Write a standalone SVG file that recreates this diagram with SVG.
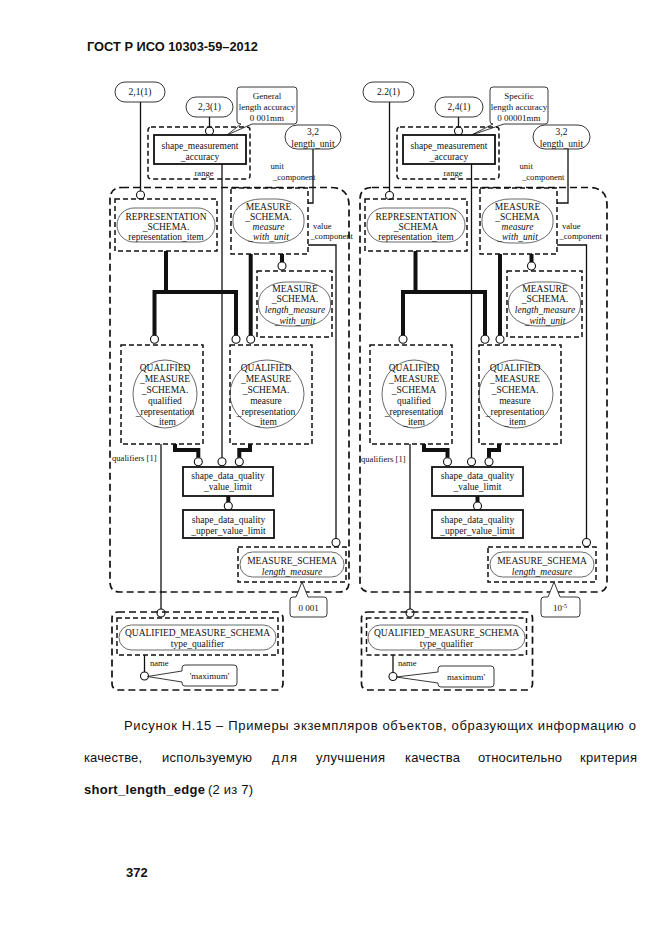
<svg xmlns="http://www.w3.org/2000/svg" width="661" height="935" viewBox="0 0 661 935">
<style>
.t{font-family:"Liberation Serif","Times New Roman",serif;font-size:9.5px;fill:#111;text-anchor:middle}
.s{font-size:8.6px}
.n{font-size:9px}
.i{font-style:italic}
.st{text-anchor:start}
.box{fill:#fff;stroke:#111;stroke-width:1.8}
.dbox{fill:none;stroke:#111;stroke-width:1.5;stroke-dasharray:5 3}
.obox{fill:none;stroke:#111;stroke-width:1.7;stroke-dasharray:7 4}
.lbl{fill:#fff;stroke:#222;stroke-width:0.9}
.shp{fill:none;stroke:#444;stroke-width:0.8}
.thin{fill:none;stroke:#111;stroke-width:1.3}
.thick{fill:none;stroke:#111;stroke-width:4}
.c{fill:#fff;stroke:#111;stroke-width:1.1}
.cap{font-family:"Liberation Sans",Arial,sans-serif;font-size:13px;fill:#111}
.b{font-weight:bold}
</style>
<rect width="661" height="935" fill="#fff"/>
<text class="cap b" x="87" y="50.5" font-size="14" textLength="171" lengthAdjust="spacingAndGlyphs">ГОСТ Р ИСО 10303-59–2012</text>

<g id="panel-left">
  <g id="L-group">
    <path class="obox" d="M122,187.5 H331 Q349,187.5 349,205.5 V582 Q349,592 339,592 H120 Q110,592 110,582 V199.5 Q110,187.5 122,187.5 Z"/>
  </g>
  <g id="L-connectors">
    <path class="thin" d="M140.5,102 V191"/>
    <path class="thin" d="M209.5,117 V127"/>
    <path class="thin" d="M313,149 V203 H308"/>
    <path class="thin" d="M308,245 H336 V538.5"/>
    <path class="thin" d="M222,164 V457.7"/>
    <path class="thin" d="M161,444 V609"/>
    <path class="thin" d="M144.5,655 V672"/>
    <path class="thick" d="M166,251 V292"/>
    <path class="thick" d="M154.5,335.3 V292 H236 V335.3"/>
    <path class="thick" d="M250.7,254 V335.3"/>
    <path class="thick" d="M282,254 V262"/>
    <path class="thick" d="M175,444 V450 H198.3 V457.7"/>
    <path class="thick" d="M250,444 V450 H239.3 V457.7"/>
    <path class="thick" d="M228.3,496 V502"/>
    <circle class="c" cx="140.5" cy="195" r="4"/>
    <circle class="c" cx="209.5" cy="131" r="4"/>
    <circle class="c" cx="154.5" cy="339.3" r="4"/>
    <circle class="c" cx="236" cy="339.3" r="4"/>
    <circle class="c" cx="250.7" cy="339.3" r="4"/>
    <circle class="c" cx="282" cy="266" r="4"/>
    <circle class="c" cx="198.3" cy="461.7" r="4"/>
    <circle class="c" cx="222" cy="461.7" r="4"/>
    <circle class="c" cx="239.3" cy="461.7" r="4"/>
    <circle class="c" cx="228.3" cy="506" r="4"/>
    <circle class="c" cx="336" cy="542.5" r="4"/>
    <circle class="c" cx="161" cy="613" r="4"/>
    <circle class="c" cx="144.5" cy="676" r="4"/>
    <text class="t s st" x="270.5" y="169">unit</text>
    <text class="t s st" x="273" y="180">_component</text>
    <text class="t s st" x="313" y="229">value</text>
    <text class="t s st" x="310.5" y="239">_component</text>
    <text class="t s st" x="112" y="461">qualifiers [1]</text>
    <text class="t s st" x="150" y="666">name</text>
  </g>
  <g id="L-ref-2-1">
    <rect class="lbl" x="115" y="82" width="50" height="20" rx="10"/>
    <text class="t" x="140" y="95.3">2,1(1)</text>
  </g>
  <g id="L-ref-2-3">
    <rect class="lbl" x="186" y="97" width="47" height="20" rx="10"/>
    <text class="t" x="209.5" y="110.3">2,3(1)</text>
  </g>
  <g id="L-note-accuracy">
    <path class="lbl" d="M240,87 H294 Q297,87 297,90 V121 Q297,124 294,124 H252 L227,135 L241,124 Q237,124 237,121 V90 Q237,87 240,87 Z"/>
    <text class="t n" x="267" y="98.5">General</text>
    <text class="t n" x="267" y="109.5">length accuracy</text>
    <text class="t n" x="267" y="120.5">0 001mm</text>
  </g>
  <g id="L-ref-3-2">
    <rect class="lbl" x="285" y="125" width="56" height="24" rx="12"/>
    <text class="t" x="313" y="135">3,2</text>
    <text class="t" x="313" y="146.5">length_unit</text>
  </g>
  <g id="L-shape-measurement-accuracy">
    <rect class="dbox" x="148" y="127" width="102" height="52" rx="3"/>
    <rect class="box" x="154" y="135" width="92" height="29"/>
    <text class="t" x="200" y="149">shape_measurement</text>
    <text class="t" x="200" y="160">_accuracy</text>
    <text class="t s" x="204" y="176">range</text>
  </g>
  <g id="L-representation-item">
    <rect class="dbox" x="115" y="199" width="102" height="52"/>
    <rect class="shp" x="117" y="208" width="98" height="34" rx="17"/>
    <text class="t" x="166" y="220">REPRESENTATION</text>
    <text class="t" x="166" y="229.5">_SCHEMA.</text>
    <text class="t" x="166" y="239.5">representation_item</text>
  </g>
  <g id="L-measure-with-unit">
    <rect class="dbox" x="231" y="188" width="77" height="66"/>
    <rect class="shp" x="233" y="199" width="71" height="44" rx="28" ry="20"/>
    <text class="t" x="268.5" y="210">MEASURE</text>
    <text class="t" x="268.5" y="220">_SCHEMA.</text>
    <text class="t i" x="268.5" y="230">measure</text>
    <text class="t i" x="268.5" y="240">_with_unit</text>
  </g>
  <g id="L-length-measure-with-unit">
    <rect class="dbox" x="257" y="271" width="75" height="66"/>
    <rect class="shp" x="258.5" y="282" width="72" height="44" rx="28" ry="20"/>
    <text class="t" x="295" y="291.5">MEASURE</text>
    <text class="t" x="295" y="302">_SCHEMA.</text>
    <text class="t i" x="295" y="313">length_measure</text>
    <text class="t i" x="295" y="323.5">_with_unit</text>
  </g>
  <g id="L-qualified-representation-item">
    <rect class="dbox" x="121" y="345" width="82" height="99"/>
    <ellipse class="shp" cx="165" cy="394" rx="32" ry="34"/>
    <text class="t" x="165" y="371">QUALIFIED</text>
    <text class="t" x="165" y="382">_MEASURE</text>
    <text class="t" x="165" y="393">_SCHEMA.</text>
    <text class="t" x="165" y="403.5">qualified</text>
    <text class="t" x="165" y="415">_representation</text>
    <text class="t" x="165" y="425">_item</text>
  </g>
  <g id="L-measure-representation-item">
    <rect class="dbox" x="230" y="345" width="82" height="99"/>
    <ellipse class="shp" cx="267" cy="394" rx="37" ry="34"/>
    <text class="t" x="266" y="371">QUALIFIED</text>
    <text class="t" x="266" y="382">_MEASURE</text>
    <text class="t" x="266" y="393">_SCHEMA.</text>
    <text class="t" x="266" y="403.5">measure</text>
    <text class="t" x="266" y="415">_representation</text>
    <text class="t" x="266" y="425">_item</text>
  </g>
  <g id="L-value-limit">
    <rect class="box" x="183" y="467" width="90" height="29"/>
    <text class="t" x="228" y="479">shape_data_quality</text>
    <text class="t" x="228" y="490">_value_limit</text>
  </g>
  <g id="L-upper-value-limit">
    <rect class="box" x="183" y="510" width="91" height="28"/>
    <text class="t" x="228.5" y="522.5">shape_data_quality</text>
    <text class="t" x="228.5" y="533.5">_upper_value_limit</text>
  </g>
  <g id="L-length-measure">
    <rect class="dbox" x="238" y="547" width="108" height="35"/>
    <rect class="shp" x="240" y="552" width="104" height="25" rx="12.5"/>
    <text class="t" x="292" y="564">MEASURE_SCHEMA</text>
    <text class="t i" x="292" y="574.5">length_measure</text>
  </g>
  <g id="L-note-value">
    <path class="lbl" d="M293,597 H296 L302,582 L308,597 H324 Q327,597 327,600 V614 Q327,617 324,617 H293 Q290,617 290,614 V600 Q290,597 293,597 Z"/>
    <text class="t n" x="308.5" y="610.5">0 001</text>
  </g>
  <g id="L-type-qualifier">
    <rect class="obox" x="112" y="612" width="171" height="78" rx="6"/>
    <rect class="dbox" x="117" y="618" width="161" height="37"/>
    <rect class="shp" x="119" y="625" width="157" height="25" rx="12.5"/>
    <text class="t" x="197.5" y="636">QUALIFIED_MEASURE_SCHEMA</text>
    <text class="t" x="197.5" y="646.5">type_qualifier</text>
  </g>
  <g id="L-note-name">
    <path class="lbl" d="M185,665 H234 Q237,665 237,668 V683 Q237,686 234,686 H185 Q182,686 182,683 V682 L147.5,676.5 L182,671 V668 Q182,665 185,665 Z"/>
    <text class="t n" x="209.5" y="679">'maximum'</text>
  </g>
</g>

<g id="panel-right" transform="translate(249,0)">
  <g id="R-group">
    <path class="obox" d="M123,187.5 H340 Q358,187.5 358,205.5 V582 Q358,592 348,592 H121 Q111,592 111,582 V199.5 Q111,187.5 123,187.5 Z"/>
  </g>
  <g id="R-connectors">
    <path class="thin" d="M140.5,102 V191"/>
    <path class="thin" d="M209.5,117 V127"/>
    <path class="thin" d="M319,149 V203 H308"/>
    <path class="thin" d="M308,245 H337.5 V538.5"/>
    <path class="thin" d="M222.5,164 V457.7"/>
    <path class="thin" d="M161,444 V609"/>
    <path class="thin" d="M144,655 V672"/>
    <path class="thick" d="M166.5,251 V292"/>
    <path class="thick" d="M154,335.3 V292 H236 V335.3"/>
    <path class="thick" d="M251,254 V335.3"/>
    <path class="thick" d="M282.5,254 V262"/>
    <path class="thick" d="M175,444 V450 H198.5 V457.7"/>
    <path class="thick" d="M250,444 V450 H240 V457.7"/>
    <path class="thick" d="M228.5,496 V502"/>
    <circle class="c" cx="140.5" cy="195.5" r="4"/>
    <circle class="c" cx="209.5" cy="131" r="4"/>
    <circle class="c" cx="154" cy="339.3" r="4"/>
    <circle class="c" cx="236" cy="339.3" r="4"/>
    <circle class="c" cx="251" cy="339.3" r="4"/>
    <circle class="c" cx="282.5" cy="266" r="4"/>
    <circle class="c" cx="198.5" cy="461.7" r="4"/>
    <circle class="c" cx="222.5" cy="461.7" r="4"/>
    <circle class="c" cx="240" cy="461.7" r="4"/>
    <circle class="c" cx="228.5" cy="506" r="4"/>
    <circle class="c" cx="337.5" cy="542.5" r="4"/>
    <circle class="c" cx="161" cy="613" r="4"/>
    <circle class="c" cx="144" cy="676.5" r="4"/>
    <text class="t s st" x="270.5" y="169">unit</text>
    <text class="t s st" x="273" y="180">_component</text>
    <text class="t s st" x="313" y="229">value</text>
    <text class="t s st" x="310.5" y="239">_component</text>
    <text class="t s st" x="112" y="462">qualifiers [1]</text>
    <text class="t s st" x="149" y="666">name</text>
  </g>
  <g id="R-ref-2-2">
    <rect class="lbl" x="114" y="82" width="51" height="20" rx="10"/>
    <text class="t" x="139.5" y="95.3">2.2(1)</text>
  </g>
  <g id="R-ref-2-4">
    <rect class="lbl" x="186" y="97" width="48" height="20" rx="10"/>
    <text class="t" x="210" y="110.3">2,4(1)</text>
  </g>
  <g id="R-note-accuracy">
    <path class="lbl" d="M244,87 H296 Q299,87 299,90 V121 Q299,124 296,124 H255 L222.5,135 L244,124 Q241,124 241,121 V90 Q241,87 244,87 Z"/>
    <text class="t n" x="270" y="98.5">Specific</text>
    <text class="t n" x="270" y="109.5">length accuracy</text>
    <text class="t n" x="270" y="120.5">0 00001mm</text>
  </g>
  <g id="R-ref-3-2">
    <rect class="lbl" x="284" y="125" width="57" height="24" rx="12"/>
    <text class="t" x="312.5" y="135">3,2</text>
    <text class="t" x="312.5" y="146.5">length_unit</text>
  </g>
  <g id="R-shape-measurement-accuracy">
    <rect class="dbox" x="148" y="127" width="102" height="52" rx="3"/>
    <rect class="box" x="154" y="135" width="92" height="29"/>
    <text class="t" x="200" y="149">shape_measurement</text>
    <text class="t" x="200" y="160">_accuracy</text>
    <text class="t s" x="204" y="176">range</text>
  </g>
  <g id="R-representation-item">
    <rect class="dbox" x="116" y="199" width="102" height="52"/>
    <rect class="shp" x="118" y="208" width="98" height="34" rx="17"/>
    <text class="t" x="167" y="220">REPRESENTATION</text>
    <text class="t" x="167" y="229.5">_SCHEMA</text>
    <text class="t" x="167" y="239.5">representation_item</text>
  </g>
  <g id="R-measure-with-unit">
    <rect class="dbox" x="231" y="188" width="77" height="66"/>
    <rect class="shp" x="233" y="199" width="71" height="44" rx="28" ry="20"/>
    <text class="t" x="268.5" y="210">MEASURE</text>
    <text class="t" x="268.5" y="220">_SCHEMA</text>
    <text class="t i" x="268.5" y="230">measure</text>
    <text class="t i" x="268.5" y="240">_with_unit</text>
  </g>
  <g id="R-length-measure-with-unit">
    <rect class="dbox" x="258" y="271" width="75" height="66"/>
    <rect class="shp" x="259.5" y="282" width="72" height="44" rx="28" ry="20"/>
    <text class="t" x="296" y="291.5">MEASURE</text>
    <text class="t" x="296" y="302">_SCHEMA.</text>
    <text class="t i" x="296" y="313">length_measure</text>
    <text class="t i" x="296" y="323.5">_with_unit</text>
  </g>
  <g id="R-qualified-representation-item">
    <rect class="dbox" x="121" y="345" width="82" height="99"/>
    <ellipse class="shp" cx="165" cy="394" rx="32" ry="34"/>
    <text class="t" x="165" y="371">QUALIFIED</text>
    <text class="t" x="165" y="382">_MEASURE</text>
    <text class="t" x="165" y="393">_SCHEMA</text>
    <text class="t" x="165" y="403.5">qualified</text>
    <text class="t" x="165" y="415">_representation</text>
    <text class="t" x="165" y="425">_item</text>
  </g>
  <g id="R-measure-representation-item">
    <rect class="dbox" x="230" y="345" width="82" height="99"/>
    <ellipse class="shp" cx="267" cy="394" rx="37" ry="34"/>
    <text class="t" x="266" y="371">QUALIFIED</text>
    <text class="t" x="266" y="382">_MEASURE</text>
    <text class="t" x="266" y="393">_SCHEMA.</text>
    <text class="t" x="266" y="403.5">measure</text>
    <text class="t" x="266" y="415">_representation</text>
    <text class="t" x="266" y="425">_item</text>
  </g>
  <g id="R-value-limit">
    <rect class="box" x="183" y="467" width="91" height="29"/>
    <text class="t" x="228.5" y="479">shape_data_quality</text>
    <text class="t" x="228.5" y="490">_value_limit</text>
  </g>
  <g id="R-upper-value-limit">
    <rect class="box" x="183" y="510" width="91" height="28"/>
    <text class="t" x="228.5" y="522.5">shape_data_quality</text>
    <text class="t" x="228.5" y="533.5">_upper_value_limit</text>
  </g>
  <g id="R-length-measure">
    <rect class="dbox" x="239" y="547" width="108" height="35"/>
    <rect class="shp" x="241" y="552" width="104" height="25" rx="12.5"/>
    <text class="t" x="293" y="564">MEASURE_SCHEMA</text>
    <text class="t i" x="293" y="574.5">length_measure</text>
  </g>
  <g id="R-note-value">
    <path class="lbl" d="M295,597 H299 L305,582 L311,597 H328 Q331,597 331,600 V614 Q331,617 328,617 H295 Q292,617 292,614 V600 Q292,597 295,597 Z"/>
    <text class="t n" x="311" y="611">10<tspan font-size="6" dy="-3.5">-5</tspan></text>
  </g>
  <g id="R-type-qualifier">
    <rect class="obox" x="112.5" y="612" width="171" height="78" rx="6"/>
    <rect class="dbox" x="117.5" y="618" width="160" height="37"/>
    <rect class="shp" x="119" y="625" width="157" height="25" rx="12.5"/>
    <text class="t" x="197.5" y="636">QUALIFIED_MEASURE_SCHEMA</text>
    <text class="t" x="197.5" y="646.5">type_qualifier</text>
  </g>
  <g id="R-note-name">
    <path class="lbl" d="M192,666 H242 Q245,666 245,669 V684 Q245,687 242,687 H192 Q189,687 189,684 V683 L147,677 L189,672 V669 Q189,666 192,666 Z"/>
    <text class="t n" x="217" y="680">maximum'</text>
  </g>
</g>

<g id="caption">
  <text class="cap" x="124" y="730" textLength="512" lengthAdjust="spacing">Рисунок Н.15 – Примеры экземпляров объектов, образующих информацию о</text>
  <text class="cap" x="84" y="762" textLength="58" lengthAdjust="spacing">качестве,</text>
  <text class="cap" x="162" y="762" textLength="90" lengthAdjust="spacing">используемую</text>
  <text class="cap" x="272" y="762" textLength="25" lengthAdjust="spacing">для</text>
  <text class="cap" x="316" y="762" textLength="69" lengthAdjust="spacing">улучшения</text>
  <text class="cap" x="405" y="762" textLength="55" lengthAdjust="spacing">качества</text>
  <text class="cap" x="478" y="762" textLength="84" lengthAdjust="spacing">относительно</text>
  <text class="cap" x="580" y="762" textLength="57" lengthAdjust="spacing">критерия</text>
  <text class="cap b" x="84" y="794" textLength="121" lengthAdjust="spacing">short_length_edge</text>
  <text class="cap" x="208" y="794" textLength="45" lengthAdjust="spacing">(2 из 7)</text>
</g>
<text class="cap b" x="126" y="877" font-size="12.5">372</text>
</svg>
